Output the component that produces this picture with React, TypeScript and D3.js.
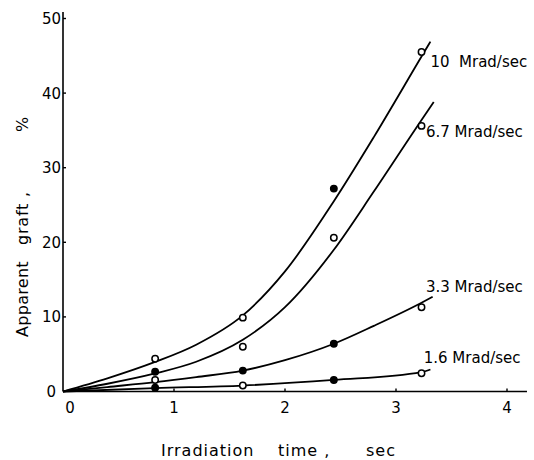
import React from "react";
import * as d3 from "d3";

// Fitted curves
const curve10X = [0, 0.4, 0.83, 1.2, 1.62, 2.0, 2.44, 2.8, 3.23, 3.31];
const curve10Y = [0, 1.76, 3.96, 6.27, 10.2, 16.1, 25.5, 34.1, 44.9, 46.9];
const curve67X = [0, 0.4, 0.83, 1.2, 1.62, 2.0, 2.44, 2.8, 3.23, 3.34];
const curve67Y = [0, 1.04, 2.42, 3.99, 6.93, 11.3, 19.0, 26.8, 36.4, 38.8];
const curve33X = [0, 0.4, 0.83, 1.2, 1.62, 2.0, 2.44, 2.8, 3.23, 3.33];
const curve33Y = [0, 0.6, 1.25, 1.93, 2.8, 4.2, 6.4, 8.8, 11.9, 12.7];
const curve16X = [0, 0.83, 1.62, 2.44, 3.23, 3.31];
const curve16Y = [0, 0.45, 0.8, 1.55, 2.6, 2.95];

// Measured points
const pointX = [0.83, 1.62, 2.44, 3.23];
const points10 = [4.4, 9.9, 27.2, 45.5];
const filled10 = [false, false, true, false];
const points67 = [2.65, 6.0, 20.6, 35.6];
const filled67 = [true, false, false, false];
const points33 = [1.55, 2.8, 6.4, 11.3];
const filled33 = [false, true, true, false];
const points16 = [0.5, 0.8, 1.55, 2.45];
const filled16 = [true, false, true, false];

const seriesLabels = ["10  Mrad/sec", "6.7 Mrad/sec", "3.3 Mrad/sec", "1.6 Mrad/sec"];
const labelPos = [
  [3.31, 44.2],
  [3.27, 34.8],
  [3.27, 14.0],
  [3.25, 4.5],
];

const xTicks = [0, 1, 2, 3, 4];
const yTicks = [0, 10, 20, 30, 40, 50];

export default function App() {
  const W = 534;
  const H = 460;
  const x = d3.scaleLinear().domain([0, 4]).range([63, 507]);
  const y = d3.scaleLinear().domain([0, 50]).range([391.5, 18.5]);
  const font = "'DejaVu Sans', sans-serif";

  const line = d3
    .line<[number, number]>()
    .x((d) => x(d[0]))
    .y((d) => y(d[1]))
    .curve(d3.curveMonotoneX);

  const curves = [
    curve10X.map((v, i) => [v, curve10Y[i]] as [number, number]),
    curve67X.map((v, i) => [v, curve67Y[i]] as [number, number]),
    curve33X.map((v, i) => [v, curve33Y[i]] as [number, number]),
    curve16X.map((v, i) => [v, curve16Y[i]] as [number, number]),
  ];
  const pts = [points10, points67, points33, points16];
  const fills = [filled10, filled67, filled33, filled16];

  return (
    <svg
      width={W}
      height={H}
      style={{ position: "absolute", left: 0, top: 0, background: "#fff" }}
    >
      <rect width={W} height={H} fill="#fff" />
      {/* axes */}
      <line x1={x(0)} x2={x(0)} y1={12} y2={y(0)} stroke="#000" strokeWidth={1.6} />
      <line x1={x(0)} x2={x(4.18)} y1={y(0)} y2={y(0)} stroke="#000" strokeWidth={1.6} />
      {yTicks.filter((t) => t > 0).map((t) => (
        <line key={"yt" + t} x1={x(0)} x2={x(0) + 3} y1={y(t)} y2={y(t)} stroke="#000" strokeWidth={1.4} />
      ))}
      {xTicks.filter((t) => t > 0).map((t) => (
        <line key={"xt" + t} x1={x(t)} x2={x(t)} y1={y(0)} y2={y(0) - 3} stroke="#000" strokeWidth={1.4} />
      ))}
      {yTicks.map((t) => (
        <text
          key={"yl" + t}
          x={t === 0 ? 56 : 61}
          y={y(t)}
          dy="0.36em"
          textAnchor="end"
          fontFamily={font}
          fontSize={15}
        >
          {t}
        </text>
      ))}
      {xTicks.map((t) => (
        <text
          key={"xl" + t}
          x={t === 0 ? x(t) + 7 : x(t)}
          y={413}
          textAnchor="middle"
          fontFamily={font}
          fontSize={15}
        >
          {t}
        </text>
      ))}
      {/* axis titles */}
      <text x={161} y={456} fontFamily={font} fontSize={16} letterSpacing={1}>
        Irradiation
      </text>
      <text x={278} y={456} fontFamily={font} fontSize={16} letterSpacing={1}>
        time ,
      </text>
      <text x={366} y={456} fontFamily={font} fontSize={16} letterSpacing={1}>
        sec
      </text>
      <g transform="translate(28,0) rotate(-90)">
        <text x={-337} y={0} fontFamily={font} fontSize={16} letterSpacing={0.3}>
          Apparent
        </text>
        <text x={-245} y={0} fontFamily={font} fontSize={16} letterSpacing={0.8}>
          graft ,
        </text>
        <text x={-132} y={0} fontFamily={font} fontSize={16}>
          %
        </text>
      </g>
      {/* curves */}
      {curves.map((c, i) => (
        <path key={"c" + i} d={line(c) || ""} fill="none" stroke="#000" strokeWidth={1.8} />
      ))}
      {/* points */}
      {pts.map((s, i) =>
        s.map((v, j) => (
          <circle
            key={"p" + i + "-" + j}
            cx={x(pointX[j])}
            cy={y(v)}
            r={3.2}
            fill={fills[i][j] ? "#000" : "#fff"}
            stroke="#000"
            strokeWidth={1.5}
          />
        ))
      )}
      {/* series labels */}
      {seriesLabels.map((l, i) => (
        <text
          key={"sl" + i}
          x={x(labelPos[i][0])}
          y={y(labelPos[i][1])}
          dy="0.36em"
          fontFamily={font}
          fontSize={15}
          style={{ whiteSpace: "pre" }}
        >
          {l}
        </text>
      ))}
    </svg>
  );
}
